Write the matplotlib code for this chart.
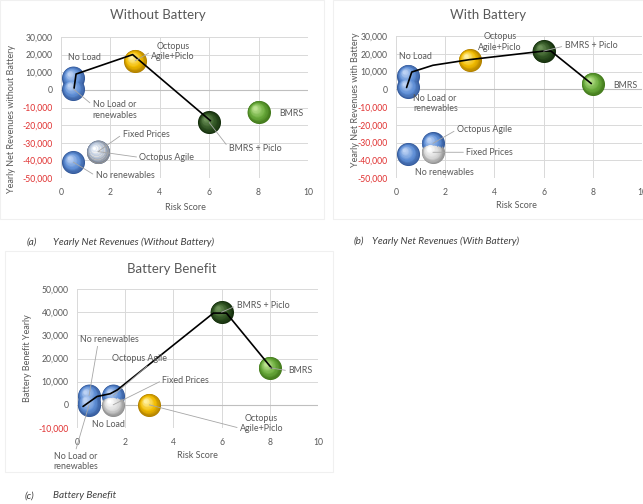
import numpy as np
import matplotlib
matplotlib.use("Agg")
import matplotlib.pyplot as plt
import matplotlib.colors as mcolors
from matplotlib.patches import Rectangle
from matplotlib.transforms import ScaledTranslation

plt.rcParams['font.family'] = ['Lato', 'DejaVu Sans']

# tariff options and their risk scores
names = ["No Load", "No Load or\nrenewables", "No renewables", "Octopus Agile",
         "Fixed Prices", "Octopus\nAgile+Piclo", "BMRS", "BMRS + Piclo"]
risk = [0.5, 0.5, 0.5, 1.5, 1.5, 3, 8, 6]
kind = ["blue", "blue", "blue", "blue", "silver", "gold", "green", "dkgreen"]

# yearly net revenues (GBP)
rev_without = [7000, 500, -41000, -35000, -35000, 16500, -12500, -18500]
rev_with = [7500, 1000, -36500, -30500, -35500, 16500, 3000, 21500]
benefit = [1000, 0, 4000, 4000, 0, 0, 16000, 40000]

# hand-drawn frontier lines
front_a_x = [0.53, 0.61, 2.9, 6.05]
front_a_y = [1000, 9000, 20000, -17500]
front_b_x = [0.43, 0.64, 1.5, 3.0, 6.0, 6.3, 7.94]
front_b_y = [1000, 9700, 13500, 16700, 21500, 21500, 3200]
front_c_x = [0.25, 0.83, 1.38, 1.68, 5.66, 6.2, 8.07]
front_c_y = [-700, 3600, 4800, 6500, 39600, 39600, 15900]

yticks_a = [30000, 20000, 10000, 0, -10000, -20000, -30000, -40000, -50000]
yticks_c = [50000, 40000, 30000, 20000, 10000, 0, -10000]
xticks = [0, 2, 4, 6, 8, 10]

# sphere shading: rim, body, highlight
palette = {
    "blue": ("#34599a", "#5f8fd6", "#bcd2f4"),
    "silver": ("#8f8f8f", "#d6d6d6", "#ffffff"),
    "gold": ("#b08000", "#f2bc00", "#fff0a0"),
    "green": ("#437a1c", "#6aab3c", "#bde391"),
    "dkgreen": ("#16300e", "#315524", "#6d9258"),
}

GREY = "#595959"
W, H = 643, 504
fig = plt.figure(figsize=(W / 100, H / 100), dpi=100)


def px(x0, y0, x1, y1):
    return [x0 / W, 1 - y1 / H, (x1 - x0) / W, (y1 - y0) / H]


def sphere(ax, x, y, key, radius=8.3, layers=18, z=3):
    rim, body, light = [np.array(mcolors.to_rgb(c)) for c in palette[key]]
    for i in range(layers):
        t = i / (layers - 1)
        r = radius * (1 - 0.85 * t)
        shift = (radius - r) * 0.4
        if t < 0.4:
            c = rim + (body - rim) * (t / 0.4)
        else:
            c = body + (light - body) * ((t - 0.4) / 0.6)
        tr = ax.transData + ScaledTranslation(-shift / 72, shift / 72, fig.dpi_scale_trans)
        ax.scatter([x], [y], s=(2 * r) ** 2, color=c, transform=tr, linewidths=0,
                   zorder=z + i * 0.001, clip_on=False)


def frame(x0, y0, x1, y1):
    fig.patches.append(Rectangle((x0 / W, 1 - y1 / H), (x1 - x0) / W, (y1 - y0) / H,
                                 transform=fig.transFigure, fill=False,
                                 edgecolor="#f0f0f0", lw=0.8))


def panel(rect, yvals, yticks, fx, fy, labels, title, ylabel, title_xy, xlab_xy, ylab_xy):
    ax = fig.add_axes(px(*rect))
    ax.set_xlim(0, 10)
    ax.set_ylim(yticks[-1], yticks[0])
    ax.set_xticks(xticks)
    ax.set_yticks(yticks)
    ax.set_yticklabels([f"{v:,}" for v in yticks])
    ax.tick_params(length=0, labelsize=6.2, labelcolor=GREY, pad=7)
    ax.tick_params(axis="y", pad=6)
    for lab, v in zip(ax.get_yticklabels(), yticks):
        lab.set_color("#e03030" if v < 0 else GREY)
    for s in ax.spines.values():
        s.set_visible(False)
    ax.grid(True, color="#d9d9d9", lw=0.7)
    ax.set_axisbelow(True)
    ax.axhline(0, color="#bfbfbf", lw=0.8, zorder=1)
    ax.patch.set_alpha(0)

    for xv, yv, k in zip(risk, yvals, kind):
        sphere(ax, xv, yv, k)
    ax.plot(fx, fy, color="black", lw=1.2, zorder=5, solid_capstyle="round")

    for name, xv, yv in zip(names, risk, yvals):
        if name not in labels:
            continue
        tx, ty, ha, rel = labels[name]
        kw = dict(fontsize=6.4, color=GREY, ha=ha, va="center", multialignment=ha,
                  annotation_clip=False, zorder=6)
        if rel is not None:
            kw["arrowprops"] = dict(arrowstyle="-", color="#a6a6a6", lw=0.6,
                                    shrinkA=0, shrinkB=0, relpos=rel)
        ax.annotate(name, xy=(xv, yv), xytext=(tx, ty), **kw)

    fig.text(title_xy[0] / W, 1 - title_xy[1] / H, title, fontsize=9.5, color=GREY,
             ha="center", va="center")
    fig.text(xlab_xy[0] / W, 1 - xlab_xy[1] / H, "Risk Score", fontsize=6.5, color=GREY,
             ha="center", va="center")
    fig.text(ylab_xy[0] / W, 1 - ylab_xy[1] / H, ylabel, fontsize=6.5, color=GREY,
             ha="center", va="center", rotation=90)
    return ax


frame(0, 0, 324, 219)
frame(333, 0, 650, 219)
frame(5, 251, 333, 472)

labels_a = {
    "No Load": (0.93, 18500, "center", None),
    "Octopus\nAgile+Piclo": (4.54, 21700, "center", (0, 0.5)),
    "No Load or\nrenewables": (1.28, -11400, "left", (0, 0.75)),
    "BMRS": (9.33, -13300, "center", None),
    "BMRS + Piclo": (6.8, -33000, "left", (0, 0.5)),
    "Fixed Prices": (2.49, -25200, "left", (0, 0.5)),
    "Octopus Agile": (3.17, -38300, "left", (0, 0.5)),
    "No renewables": (1.4, -48700, "left", (0, 0.5)),
}
labels_b = {
    "No Load": (0.77, 18200, "center", None),
    "Octopus\nAgile+Piclo": (4.23, 26600, "center", None),
    "BMRS + Piclo": (6.85, 24400, "left", (0, 0.5)),
    "BMRS": (8.82, 2200, "left", None),
    "No Load or\nrenewables": (0.7, -8100, "left", None),
    "Octopus Agile": (2.47, -22800, "left", (0, 0.5)),
    "Fixed Prices": (2.85, -35500, "left", (0, 0.5)),
    "No renewables": (0.77, -47000, "left", None),
}
labels_c = {
    "BMRS + Piclo": (6.62, 42800, "left", (0, 0.5)),
    "BMRS": (8.76, 14700, "left", (0, 0.5)),
    "No renewables": (0.14, 28400, "left", (0.3, 0)),
    "Octopus Agile": (1.45, 19900, "left", (0.7, 0)),
    "Fixed Prices": (3.54, 10550, "left", (0, 0.5)),
    "No Load": (1.31, -8600, "center", None),
    "Octopus\nAgile+Piclo": (7.66, -8000, "center", (0, 0.25)),
    "No Load or\nrenewables": (-0.07, -24400, "center", (0.5, 1)),
}

panel((61, 37, 308, 178), rev_without, yticks_a, front_a_x, front_a_y, labels_a,
      "Without Battery", "Yearly Net Revenues without Battery",
      (158, 15), (185, 208), (12, 119))
panel((396, 36, 642, 178), rev_with, yticks_a, front_b_x, front_b_y, labels_b,
      "With Battery", "Yearly Net Revenues with Battery",
      (488, 15), (516, 205), (355, 100))
panel((77, 289, 318, 428), benefit, yticks_c, front_c_x, front_c_y, labels_c,
      "Battery Benefit", "Battery Benefit Yearly",
      (172, 269), (197, 456), (28, 358))

# figure captions
cap = dict(fontsize=7.2, color="#404040", style="italic", va="center", ha="left")
fig.text(27 / W, 1 - 242.5 / H, "(a)", **cap)
fig.text(53 / W, 1 - 242.5 / H, "Yearly Net Revenues (Without Battery)", **cap)
fig.text(354 / W, 1 - 241.5 / H, "(b)", **cap)
fig.text(372 / W, 1 - 241.5 / H, "Yearly Net Revenues (With Battery)", **cap)
fig.text(25 / W, 1 - 496 / H, "(c)", **cap)
fig.text(53 / W, 1 - 496 / H, "Battery Benefit", **cap)

fig.savefig("out.png", dpi=100)
